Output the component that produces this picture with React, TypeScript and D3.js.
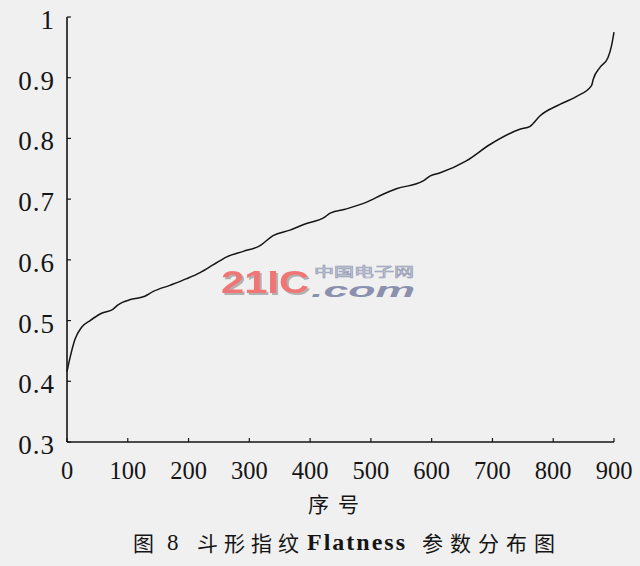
import React from "react";
import * as d3 from "d3";

const xIndex = [0, 5, 13, 24, 38, 57, 76, 84, 106, 128, 142, 169, 197, 219, 241, 263, 290, 317, 339, 367, 394, 422, 433, 460, 493, 520, 542, 586, 597, 613, 657, 696, 745, 762, 778, 811, 838, 863, 866, 877, 890, 896, 900];
const flatness = [0.416, 0.439, 0.469, 0.489, 0.5, 0.512, 0.519, 0.526, 0.535, 0.54, 0.548, 0.558, 0.569, 0.579, 0.592, 0.605, 0.614, 0.623, 0.64, 0.649, 0.66, 0.669, 0.677, 0.684, 0.695, 0.708, 0.717, 0.73, 0.738, 0.743, 0.763, 0.79, 0.815, 0.82, 0.837, 0.856, 0.869, 0.887, 0.898, 0.917, 0.933, 0.953, 0.975];
const xTicks = [0, 100, 200, 300, 400, 500, 600, 700, 800, 900];
const yTicks = [0.3, 0.4, 0.5, 0.6, 0.7, 0.8, 0.9, 1];
const xTitle = "序号";
const captionParts = ["图", "8", "斗形指纹", "Flatness", "参数分布图"];
const watermark = ["21IC", "中国电子网", ".com"];

export default function App() {
  const x = d3.scaleLinear().domain([0, 900]).range([67, 614]);
  const y = d3.scaleLinear().domain([0.3, 1]).range([442, 17]);
  const pts: [number, number][] = xIndex.map((d, i) => [d, flatness[i]]);
  const line = d3
    .line<[number, number]>()
    .x((d) => x(d[0]))
    .y((d) => y(d[1]))
    .curve(d3.curveMonotoneX);
  const serif = "'Liberation Serif', 'DejaVu Serif', serif";
  const cjk = "'Noto Sans CJK SC', sans-serif";
  const sans = "'Liberation Sans', Arial, sans-serif";
  const ink = "#151515";
  return (
    <svg
      width={640}
      height={566}
      style={{ position: "absolute", left: 0, top: 0, background: "#f0f0f0" }}
    >
      <defs>
        <filter id="wmShadow" x="-10%" y="-20%" width="130%" height="150%">
          <feDropShadow dx={2} dy={2} stdDeviation={0.6} floodColor="#aaa" floodOpacity={0.9} />
        </filter>
      </defs>
      <rect x={0} y={0} width={640} height={566} fill="#f0f0f0" />
      {/* watermark */}
      <text x={221} y={293} fontFamily={sans} fontWeight="bold" fontSize={32} fill="#f07676" textLength={88} lengthAdjust="spacingAndGlyphs" filter="url(#wmShadow)">{watermark[0]}</text>
      <text x={314} y={276} fontFamily={cjk} fontSize={13} fill="#f4f4f4" stroke="#9aa0b8" strokeWidth={0.7} textLength={100} lengthAdjust="spacingAndGlyphs">{watermark[1]}</text>
      <text x={311} y={297} fontFamily={sans} fontWeight="bold" fontStyle="italic" fontSize={21} fill="#8a90ae" textLength={104} lengthAdjust="spacingAndGlyphs">{watermark[2]}</text>
      {/* axes */}
      <line x1={x(0)} x2={x(0)} y1={y(1)} y2={y(0.3)} stroke={ink} strokeWidth={1.6} />
      <line x1={x(0)} x2={x(900)} y1={y(0.3)} y2={y(0.3)} stroke={ink} strokeWidth={1.6} />
      {yTicks.map((t) => (
        <g key={"y" + t}>
          <line x1={x(0)} x2={x(0) + 4} y1={y(t)} y2={y(t)} stroke={ink} strokeWidth={1.2} />
          <text
            x={55}
            y={y(t) + 3}
            textAnchor="end"
            dominantBaseline="central"
            fontFamily={serif}
            fontSize={27}
            letterSpacing={1}
            fill={ink}
          >
            {t === 1 ? "1" : t.toFixed(1)}
          </text>
        </g>
      ))}
      {xTicks.map((t) => (
        <g key={"x" + t}>
          <line x1={x(t)} x2={x(t)} y1={y(0.3)} y2={y(0.3) - 4} stroke={ink} strokeWidth={1.2} />
          <text
            x={x(t)}
            y={470}
            textAnchor="middle"
            dominantBaseline="central"
            fontFamily={serif}
            fontSize={24.5}
            fill={ink}
          >
            {t}
          </text>
        </g>
      ))}
      <path d={line(pts) || ""} fill="none" stroke={ink} strokeWidth={1.5} />
      <text x={308} y={503} dominantBaseline="central" fontFamily={cjk} fontSize={21} letterSpacing={9} fill={ink}>
        {xTitle}
      </text>
      <text y={542} dominantBaseline="central" fill={ink}>
        <tspan x={133} fontFamily={cjk} fontSize={21}>{captionParts[0]}</tspan>
        <tspan x={167} fontFamily={serif} fontSize={23}>{captionParts[1]}</tspan>
        <tspan x={197} fontFamily={cjk} fontSize={21} letterSpacing={6}>{captionParts[2]}</tspan>
        <tspan x={307} fontFamily={serif} fontWeight="bold" fontSize={24} letterSpacing={2}>{captionParts[3]}</tspan>
        <tspan x={422} fontFamily={cjk} fontSize={21} letterSpacing={7}>{captionParts[4]}</tspan>
      </text>
    </svg>
  );
}
